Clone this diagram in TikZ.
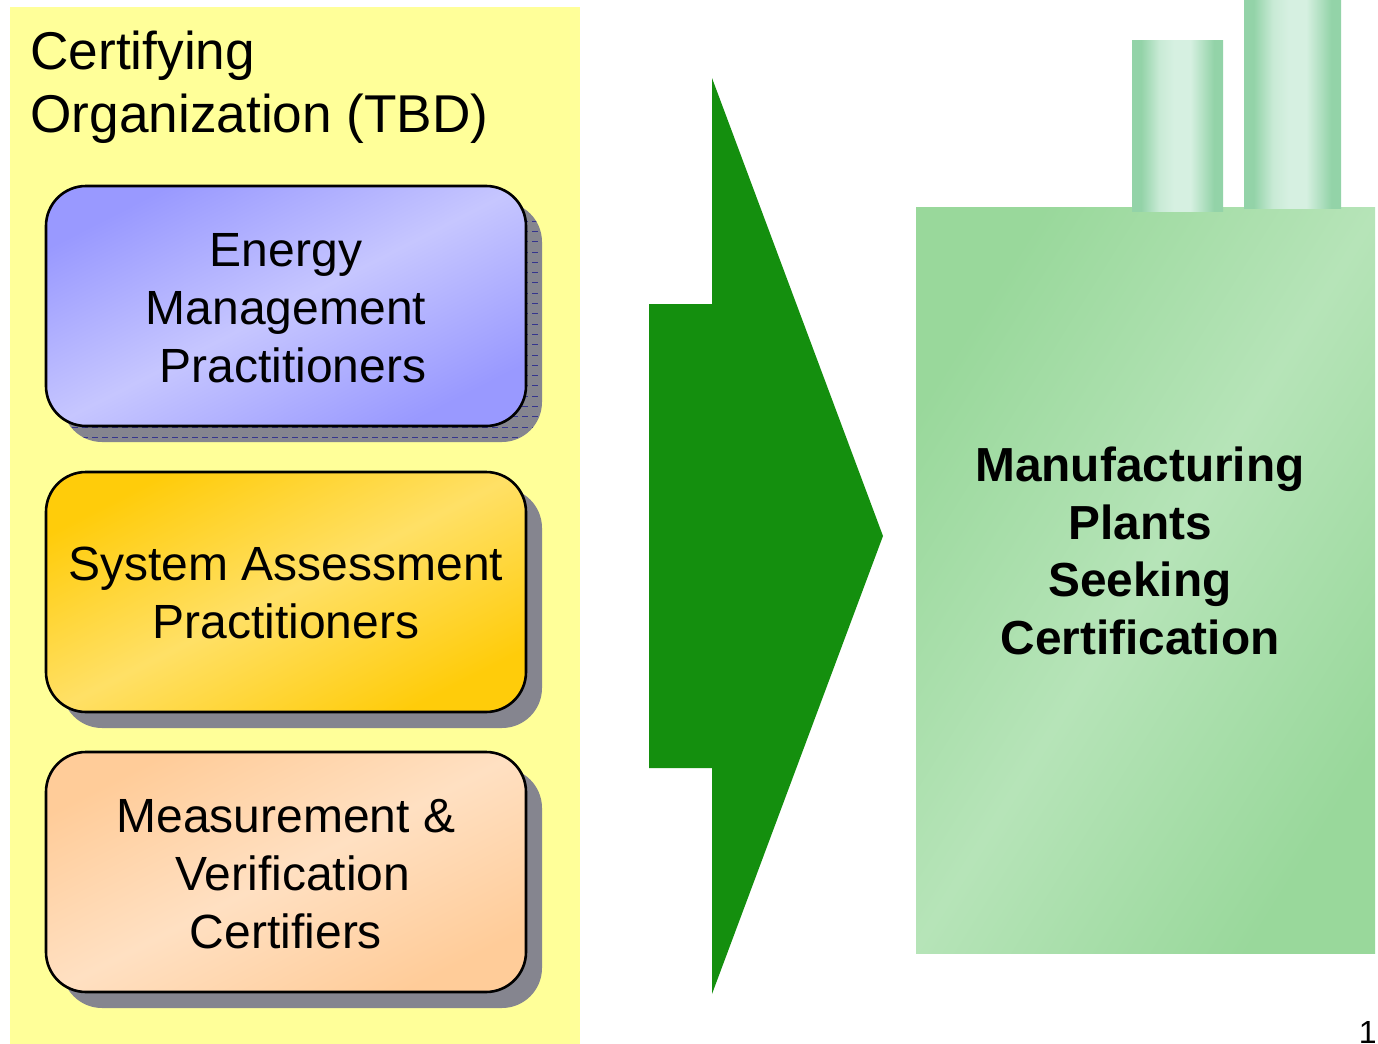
\documentclass[tikz,border=0pt]{standalone}
\usepackage{fontspec}
\setmainfont{Liberation Sans}
\definecolor{paleyellow}{HTML}{FFFF99}
\definecolor{shadowgray}{HTML}{85858F}
\definecolor{arrowgreen}{HTML}{148F0E}
\definecolor{plantdark}{HTML}{99D89B}
\definecolor{plantlight}{HTML}{B6E4B8}
\definecolor{stackdark}{HTML}{93D3A8}
\definecolor{stacklight}{HTML}{D6F0E1}
\definecolor{bluedark}{HTML}{9999FF}
\definecolor{bluelight}{HTML}{C6C6FF}
\definecolor{golddark}{HTML}{FFCC0A}
\definecolor{goldlight}{HTML}{FFE066}
\definecolor{peachdark}{HTML}{FFCC99}
\definecolor{peachlight}{HTML}{FFE0C2}
\pgfdeclarehorizontalshading{stackshade}{100bp}{color(0bp)=(stackdark); color(30bp)=(stackdark); color(40bp)=(stacklight!80!stackdark); color(48bp)=(stacklight); color(57bp)=(stacklight); color(70bp)=(stackdark); color(100bp)=(stackdark)}
\newcommand{\boxdrop}[1]{\rule{0pt}{#1}}
\tikzset{
    boxtext/.style={font=\fontsize{24}{29}\selectfont, align=center},
    box/.style n args={2}{boxtext, draw=black, line width=1.3pt, rounded corners=20pt,
        minimum width=240pt, minimum height=120pt, inner sep=0pt,
        top color=#1, bottom color=#1, middle color=#2, shading angle=27},
    stack/.style={shading=stackshade},
}
\begin{document}
\begin{tikzpicture}[x=0.5pt,y=-0.5pt]
        \useasboundingbox (0,0) rectangle (1378,1044);
        \fill[paleyellow] (10,7) rectangle (580,1044);
        \node[anchor=north west, font=\fontsize{26.6}{31.5}\selectfont, align=left, inner sep=0pt] (title) at (30,30.5) {Certifying\\Organization (TBD)};

        % shadows
        \fill[shadowgray, rounded corners=20pt] (62,202) rectangle (542,442);
        \begin{scope}
            \clip[rounded corners=20pt] (62,202) rectangle (542,442);
            \foreach \n in {0,...,21} {
                \draw[blue!55!black, ultra thin, densely dashed, opacity=0.6] (62,437-10.3*\n) -- (542,437-10.3*\n);
            }
        \end{scope}
        \fill[shadowgray, rounded corners=20pt] (62,488) rectangle (542,728);
        \fill[shadowgray, rounded corners=20pt] (62,768) rectangle (542,1008);

        % the three boxes
        \node[box={bluedark}{bluelight}] (energy) at (286,306) {\boxdrop{19pt}Energy\\Management\\\hspace*{7pt}Practitioners};
        \node[box={golddark}{goldlight}] (assess) at (286,592) {\boxdrop{18pt}System Assessment\\Practitioners};
        \node[box={peachdark}{peachlight}] (verify) at (286,872) {\boxdrop{18.5pt}Measurement \&\\\hspace*{7pt}Verification\\Certifiers};

        % big arrow
        \fill[arrowgreen] (712,78) -- (883,536) -- (712,994) -- (712,768) -- (649,768) -- (649,304) -- (712,304) -- cycle;

        % plant
        \shade[top color=plantdark, bottom color=plantdark, middle color=plantlight, shading angle=58] (916,207) rectangle (1375,953.7);
        \shade[stack] (1132,40) rectangle (1223,211);
        \shade[stack] (1244,0) rectangle (1341,208);
        \node[font=\fontsize{23.9}{28.9}\selectfont\bfseries, align=center] (plants) at (1140,551) {Manufacturing\\Plants\\Seeking\\Certification};

        \node[anchor=base east, font=\fontsize{16}{16}\selectfont, inner sep=0pt] (pagenum) at (1377,1043) {1};
    \end{tikzpicture}
\end{document}
